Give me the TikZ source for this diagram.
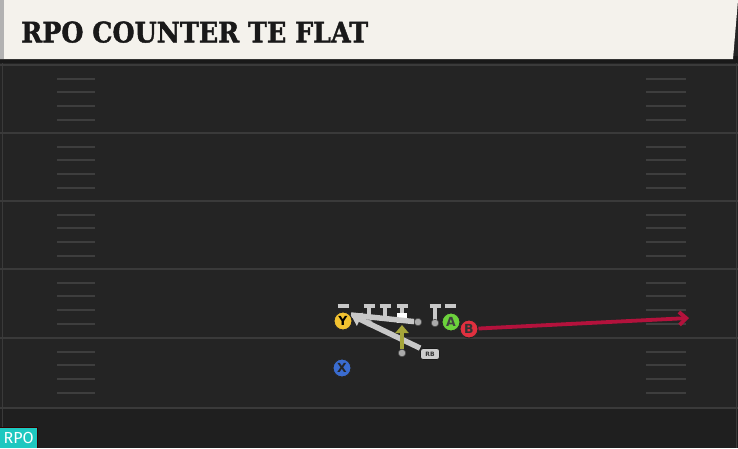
\documentclass[tikz,border=0pt]{standalone}
\usepackage{fontspec}
\setmainfont{DejaVu Serif}
\newfontfamily\titlefont[BoldFeatures={FakeBold=1.6}]{DejaVu Serif}
\newfontfamily\plfont{DejaVu Sans}
\newfontfamily\badgefont{Fira Sans}
\usetikzlibrary{arrows.meta}
\definecolor{bg}{HTML}{242424}
\definecolor{bgdark}{HTML}{1F1F1F}
\definecolor{fieldline}{HTML}{3A3A3A}
\definecolor{hashc}{HTML}{3E3E3E}
\definecolor{cream}{HTML}{F4F2EC}
\definecolor{ycol}{HTML}{F2C230}
\definecolor{acol}{HTML}{6CD23C}
\definecolor{bcol}{HTML}{E0303F}
\definecolor{xcol}{HTML}{3A6CD0}
\definecolor{routered}{HTML}{B3123C}
\definecolor{blk}{HTML}{C8C8C8}
\definecolor{olive}{HTML}{A6A63A}
\definecolor{teal}{HTML}{1EC8C0}
\tikzset{
  player/.style={circle, draw=black!85, line width=1pt, minimum size=18pt, inner sep=0pt, font=\plfont\bfseries\fontsize{12.5}{12.5}\selectfont},
  dot/.style={circle, fill=blk!85!black, draw=black!70, line width=0.6pt, minimum size=7.5pt, inner sep=0pt},
  tblk/.style={draw=blk, line width=3.6pt},
  pull/.style={draw=blk, line width=5.5pt},
  hash/.style={draw=hashc, line width=2pt},
  yardline/.style={draw=fieldline, line width=2pt},
}
\begin{document}
\begin{tikzpicture}[x=1pt,y=-1pt]
\useasboundingbox (0,0) rectangle (738,448);
% background
\fill[bg] (0,0) rectangle (738,448);
\fill[bgdark] (0,408) rectangle (738,448);
% field side edges
\draw[fieldline, line width=1pt] (2,62) -- (2,448);
\draw[fieldline, line width=1pt] (736,62) -- (736,448);
% yard lines
\foreach \y in {65,133,201,269,338,408} {
  \draw[yardline] (0,\y) -- (738,\y);
}
% hash marks
\foreach \y in {65,133,201,269,338} {
  \foreach \k in {1,2,3,4} {
    \draw[hash] (57,{\y+13.7*\k}) -- (95,{\y+13.7*\k});
    \draw[hash] (646,{\y+13.7*\k}) -- (686,{\y+13.7*\k});
  }
}
% header
\fill[black!90] (0,56) rectangle (738,63);
\fill[cream] (0,0) -- (738,0) -- (733,59) -- (0,59) -- cycle;
\fill[black!30] (0,0) rectangle (4,59);
\node[anchor=south west, inner sep=0pt, text=black!90] (title) at (21,43)
  {\resizebox{347pt}{21pt}{\titlefont\bfseries RPO COUNTER TE FLAT}};
% blocking T marks
\foreach \x in {369,385,402,435} {
  \draw[tblk] (\x,306) -- (\x,320);
}
\foreach \x in {343,369,385,402,435,450} {
  \draw[tblk] ({\x-5.5},306) -- ({\x+5.5},306);
}
% linemen dots
\node[dot] (lt) at (369,323) {};
\node[dot] (pg) at (418,322) {};
\node[dot] (rt) at (435,323) {};
\node[dot] (qb) at (402,353) {};
\node[fill=white, minimum size=10pt, inner sep=0pt] (ctr) at (402,318) {};
% pulling paths
\coordinate (tip) at (351,315);
\node[rounded corners=2.5pt, fill=blk!90!white, draw=black!90, line width=0.8pt, minimum width=19pt, minimum height=11pt, inner sep=0pt, font=\plfont\bfseries\fontsize{6}{6}\selectfont, text=black!80] (rb) at (430,354) {RB};
\draw[pull] (pg) -- (tip);
\draw[pull, -{Triangle[length=10pt,width=14pt]}] (rb.north west) -- (tip);
% QB read arrow
\coordinate (qbtip) at (402,325);
\draw[olive, line width=4.5pt, -{Triangle[length=8pt,width=13pt]}] (qb) -- (qbtip);
% players
\node[player, fill=ycol] (Y) at (343,321) {Y};
\node[player, fill=acol, text=black!75] (A) at (451,322) {A};
\node[player, fill=bcol, text=black!80] (B) at (469,329) {B};
\node[player, fill=xcol, text=black!85] (X) at (342,368) {X};
% route
\coordinate (Bend) at (689,318);
\draw[routered, line width=3.8pt, -{Straight Barb[length=7pt,width=13pt]}] (B) -- (Bend);
% badge
\fill[black!80!red] (0,427) rectangle (38,448);
\node[fill=teal, anchor=south west, minimum width=37pt, minimum height=20pt, inner sep=0pt, text=white, font=\badgefont\fontsize{16}{16}\selectfont] (badge) at (0,448) {RPO};
\end{tikzpicture}
\end{document}
